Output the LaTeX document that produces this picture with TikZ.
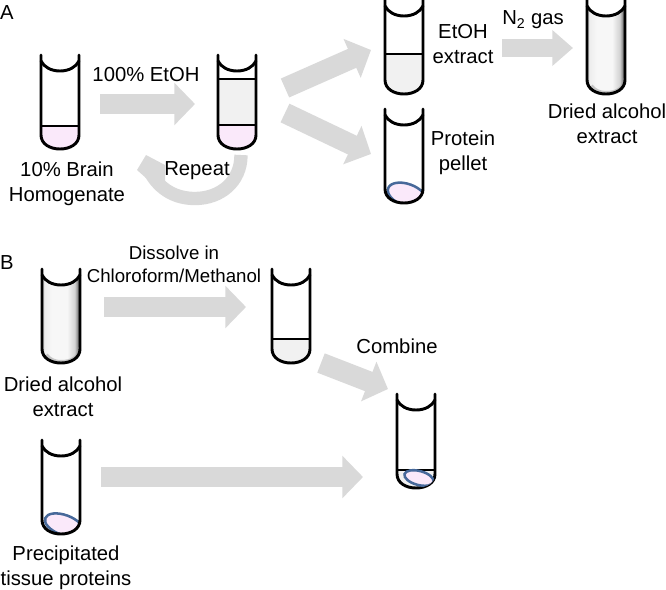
\documentclass[tikz,border=0pt]{standalone}
\usepackage{fontspec}
\setmainfont{Liberation Sans}
\usetikzlibrary{arrows.meta}

\definecolor{arrowgray}{HTML}{D9D9D9}
\definecolor{solvgray}{HTML}{F1F1F1}
\definecolor{brainpink}{HTML}{FAE9FA}
\definecolor{pelletblue}{HTML}{47699A}

% the path box spans 25bp to 75bp of the shading
\pgfdeclarehorizontalshading{driedshade}{100bp}{
  color(0bp)=(gray!70); color(25bp)=(gray!70); color(28bp)=(gray!14); color(38bp)=(gray!6);
  color(58bp)=(gray!6); color(68bp)=(gray!35); color(75bp)=(black!70); color(100bp)=(black!70)}

\tikzset{
  tubeline/.style={line width=2.2pt,line cap=round},
  bigarrow/.style={arrowgray,line width=15.5pt,-{Triangle[length=15.5pt,width=31pt]}},
  slimarrow/.style={arrowgray,line width=13.5pt,-{Triangle[length=15.5pt,width=26pt]}},
  label/.style={align=center,inner sep=0pt,font=\fontsize{15.2}{18.8}\selectfont},
  smalllabel/.style={align=center,inner sep=0pt,font=\fontsize{14}{17.3}\selectfont},
}

% tube outline and rim, top left corner at (0,0)
\newcommand{\tubebody}{(0,0) -- (0,80) .. controls (0,89) and (9,94) .. (19,94) .. controls (29,94) and (38,89) .. (38,80) -- (38,0)}
\newcommand{\tuberim}{(0,6) .. controls (3,12) and (10,16) .. (19,16) .. controls (28,16) and (35,12) .. (38,6)}

\newcommand{\tube}[2]{
  \begin{scope}[shift={(#1,#2)}]
    \draw[tubeline] \tubebody;
    \draw[tubeline] \tuberim;
  \end{scope}}
% colour, x, y, top and bottom of the layer
\newcommand{\tubelayer}[5]{
  \begin{scope}[shift={(#2,#3)}]
    \begin{scope}
      \clip \tubebody -- cycle;
      \fill[#1] (0,#4) rectangle (38,#5);
    \end{scope}
    \draw[line width=2pt] (0,#4) -- (38,#4);
  \end{scope}}
\newcommand{\driedtube}[2]{
  \begin{scope}[shift={(#1,#2)}]
    \begin{scope}
      \clip \tubebody -- cycle;
      \shade[shading=driedshade] (0,0) rectangle (38,94);
      \fill[white] (-1,-1) -- (-1,6) .. controls (3,12) and (10,16) .. (19,16) .. controls (28,16) and (35,12) .. (39,6) -- (39,-1) -- cycle;
      \draw[gray!70,line width=3pt,opacity=.6] (4,86) .. controls (8,91) and (13,93) .. (19,93) .. controls (29,93) and (38,89) .. (38,78);
    \end{scope}
  \end{scope}
  \tube{#1}{#2}}
% x, y of the tube, then pellet centre, radii and turn
\newcommand{\pellet}[7]{
  \begin{scope}[shift={(#1,#2)}]
    \begin{scope}
      \clip \tubebody -- cycle;
      \filldraw[fill=brainpink,draw=pelletblue,line width=1.9pt,rotate around={#7:(#3,#4)}] (#3,#4) ellipse ({#5} and {#6});
    \end{scope}
  \end{scope}}

\begin{document}
\begin{tikzpicture}[x=.75pt,y=-.75pt]
\useasboundingbox (0,0) rectangle (666,589);

% ends of the block arrows
\coordinate (homStart) at (100,104);
\coordinate (homEnd) at (195,104);
\coordinate (etohStart) at (285,88);
\coordinate (etohEnd) at (371,50);
\coordinate (pelStart) at (285,113);
\coordinate (pelEnd) at (371,154);
\coordinate (gasStart) at (502,48);
\coordinate (gasEnd) at (573,48);
\coordinate (disStart) at (104,307);
\coordinate (disEnd) at (246,307);
\coordinate (comStart) at (321,363);
\coordinate (comEnd) at (388,389);
\coordinate (precStart) at (101,477);
\coordinate (precEnd) at (363,477);
\coordinate (repStart) at (241,155);
\coordinate (repEnd) at (137,170);

\draw[bigarrow] (homStart) -- (homEnd);
\draw[bigarrow] (etohStart) -- (etohEnd);
\draw[bigarrow] (pelStart) -- (pelEnd);
\draw[slimarrow] (gasStart) -- (gasEnd);
\draw[bigarrow] (disStart) -- (disEnd);
\draw[bigarrow] (comStart) -- (comEnd);
\draw[bigarrow] (precStart) -- (precEnd);
% repeat loop
\draw[arrowgray,line width=10pt] (repStart) .. controls (241,182) and (220,198.5) .. (195,198.5) .. controls (176,198.5) and (160,190) .. (150,172);
\fill[arrowgray] (repEnd) -- (146,155) -- (165,165) -- (165,182) -- (146,178) -- cycle;

% top row
\tubelayer{brainpink}{41}{55}{71}{94}
\tube{41}{55}
\tubelayer{solvgray}{218}{55}{24}{70}
\tubelayer{brainpink}{218}{55}{70}{94}
\tube{218}{55}
\tubelayer{solvgray}{385}{0}{54}{94}
\tube{385}{0}
\driedtube{587}{0}
\pellet{385}{109}{22}{86}{20}{11}{-20}
\tube{385}{109}

% bottom row
\driedtube{42}{269}
\tubelayer{solvgray}{272}{269}{70}{94}
\tube{272}{269}
\pellet{42}{440}{22}{85}{20}{10}{-20}
\tube{42}{440}
\tubelayer{solvgray}{397}{394}{76}{94}
\tube{397}{394}
\pellet{397}{394}{22}{84}{15}{7}{-15}

% left
\node[label] (lblA) at (7,13) {A};
\node[label] (lblEtoh) at (146,75) {100\% EtOH};
\node[label] (lblBrain) at (67,183.5) {10\% Brain\\Homogenate};
\node[label] (lblRepeat) at (197,171) {Repeat};
% right
\node[label] (lblExtract) at (463,44) {EtOH\\extract};
\node[label] (lblGas) at (533,20) {N\textsubscript{2} gas};
\node[label] (lblDried) at (607,124) {Dried alcohol\\extract};
\node[label] (lblPellet) at (463,153) {Protein\\pellet};
% panel B
\node[label] (lblB) at (7,263) {B};
\node[smalllabel] (lblDissolve) at (174,264) {Dissolve in\\Chloroform/Methanol};
\node[label] (lblDriedB) at (63,397) {Dried alcohol\\extract};
\node[label] (lblPrec) at (66,568) {Precipitated\\tissue proteins};
\node[label] (lblCombine) at (397,346) {Combine};
\end{tikzpicture}
\end{document}
